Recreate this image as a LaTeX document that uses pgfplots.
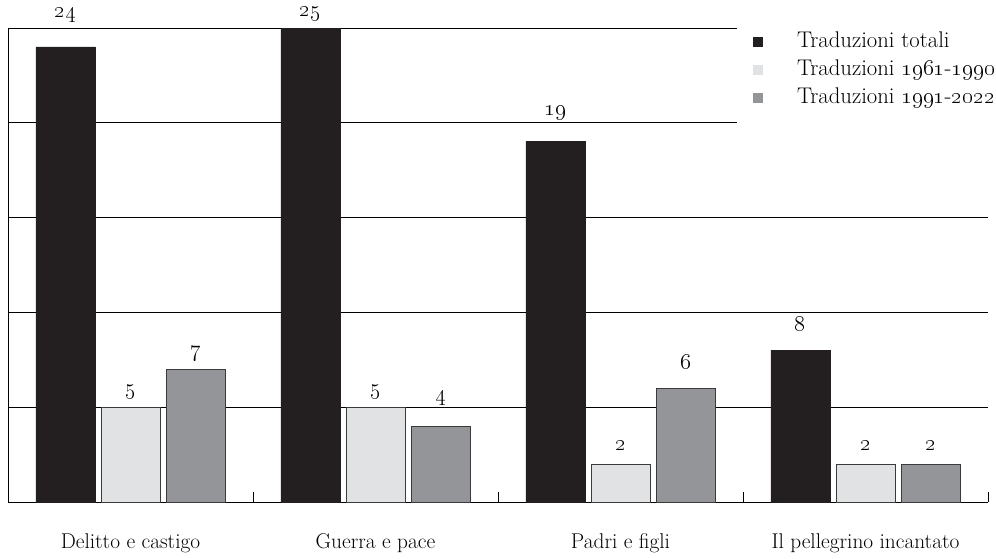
\documentclass[border=0pt]{standalone}
\usepackage{pgfplots}
\usepackage{pgfplotstable}
\pgfplotsset{compat=1.18}
\definecolor{cBlack}{HTML}{231F20}
\definecolor{cLight}{HTML}{E1E2E4}
\definecolor{cGray}{HTML}{939598}
\definecolor{cEdge}{HTML}{3A3A3A}
\pgfplotstableread{
x y lab off
0 24 24 24
1 25 25 10.5
2 19 19 21.75
3 8 8 16.5
}\tot
\pgfplotstableread{
x y lab off
0 5 5 12
1 5 5 12
2 2 2 12
3 2 2 12
}\early
\pgfplotstableread{
x y lab off
0 7 7 12
1 4 4 21.75
2 6 6 16.5
3 2 2 12
}\late
\begin{document}
\begin{tikzpicture}[font=\fontsize{16}{19}\selectfont]
\begin{axis}[
  scale only axis, width=735pt, height=355.5pt,
  xmin=-0.5, xmax=3.5, ymin=0, ymax=25,
  axis x line*=bottom, axis y line*=left,
  axis line style={black, line width=0.7pt},
  ybar=4.6pt, bar width=44.25pt,
  xtick={0,1,2,3},
  xticklabels={Delitto e castigo, Guerra e pace, Padri e figli, Il pellegrino incantato},
  xticklabel style={anchor=base, yshift=-34.5pt},
  minor xtick={0.5,1.5,2.5,3.5},
  ytick={5,10,15,20,25}, yticklabels={},
  major tick length=0pt, minor tick length=7.5pt,
  tick align=inside,
  minor tick style={black, line width=0.7pt},
  ymajorgrids, major grid style={black, line width=0.7pt},
  clip=false,
  point meta=explicit symbolic,
  visualization depends on={\thisrow{off} \as \myoff},
  nodes near coords={\oldstylenums{\pgfplotspointmeta}},
  every node near coord/.append style={anchor=center, inner sep=0pt, text height=1ex, text depth=0pt, yshift=\myoff pt, black},
  legend image code/.code={\fill[#1, draw=none] (0pt,-3.75pt) rectangle (7.5pt,3.75pt);
    \pgfpathmoveto{\pgfpoint{0pt}{0pt}}\pgfpathlineto{\pgfpoint{33pt}{0pt}}\pgfusepath{}},
  legend cell align=left,
  legend style={draw=none, fill=none, at={(0.760,0.992)}, anchor=north west, inner sep=0pt, row sep=5.5pt,
    font=\fontsize{17}{20}\selectfont,
    nodes={inner xsep=0pt, inner ysep=0pt, text height=11.5pt, text depth=4pt}},
]
\addplot[fill=cBlack, draw=cBlack, line width=0.5pt] table[x=x, y=y, meta=lab] {\tot};
\addplot[fill=cLight, draw=cEdge, line width=0.6pt] table[x=x, y=y, meta=lab] {\early};
\addplot[fill=cGray, draw=cEdge, line width=0.6pt] table[x=x, y=y, meta=lab] {\late};
\fill[white] (rel axis cs:0.744,1.017) rectangle (rel axis cs:1.012,0.78);
\legend{Traduzioni totali, Traduzioni \oldstylenums{1961}-\oldstylenums{1990}, Traduzioni \oldstylenums{1991}-\oldstylenums{2022}}
\end{axis}
\pgfresetboundingbox
\path[use as bounding box] (-6pt,-42pt) rectangle (741pt,376.5pt);
\end{tikzpicture}
\end{document}
